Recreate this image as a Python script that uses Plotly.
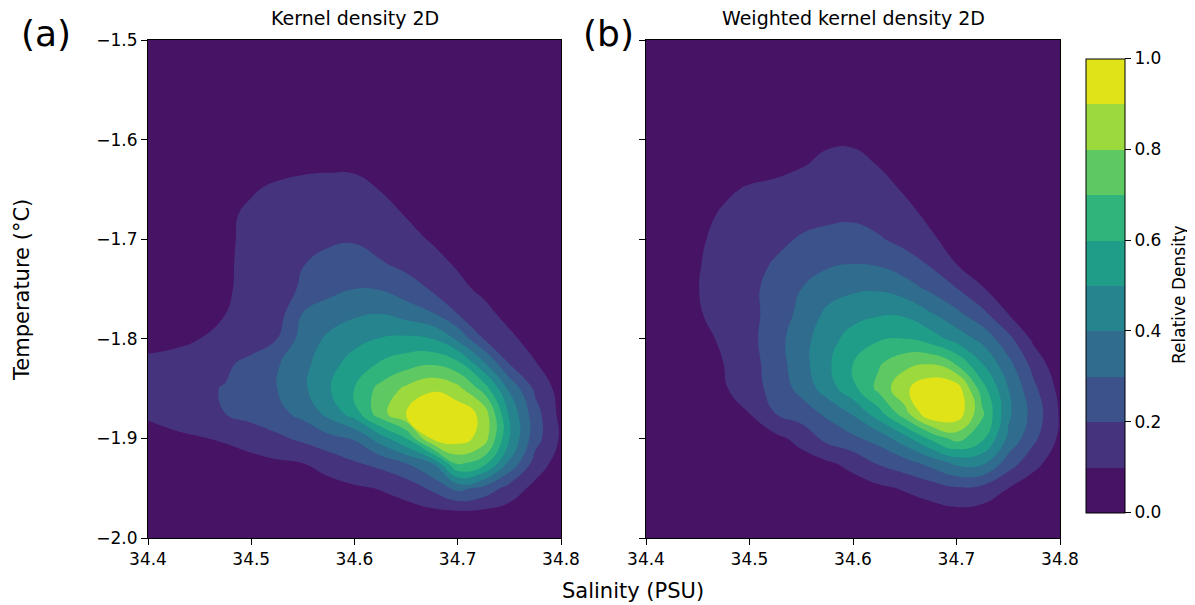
import plotly.graph_objects as go

# ---------------- data ----------------
salinity = [34.400, 34.425, 34.450, 34.475, 34.500, 34.525, 34.550, 34.575, 34.600,
            34.625, 34.650, 34.675, 34.700, 34.725, 34.750, 34.775, 34.800]
temperature = [-2.000, -1.975, -1.950, -1.925, -1.900, -1.875, -1.850, -1.825, -1.800,
               -1.775, -1.750, -1.725, -1.700, -1.675, -1.650, -1.625, -1.600, -1.575,
               -1.550, -1.525, -1.500]

# relative density, rows follow `temperature`, columns follow `salinity`
density_kde = [
    [0, 0, 0, 0, 0.005, 0.005, 0.01, 0.01, 0.015, 0.02, 0.02, 0.025, 0.03, 0.03, 0.02, 0.01, 0.005],
    [0, 0.005, 0.01, 0.01, 0.015, 0.02, 0.025, 0.03, 0.04, 0.05, 0.06, 0.07, 0.075, 0.07, 0.055, 0.03, 0.01],
    [0.01, 0.015, 0.02, 0.025, 0.03, 0.04, 0.05, 0.065, 0.085, 0.105, 0.14, 0.22, 0.33, 0.27, 0.16, 0.07, 0.03],
    [0.03, 0.04, 0.05, 0.06, 0.07, 0.085, 0.1, 0.14, 0.19, 0.23, 0.3, 0.4, 0.72, 0.64, 0.38, 0.16, 0.05],
    [0.075, 0.085, 0.095, 0.11, 0.14, 0.18, 0.22, 0.27, 0.31, 0.45, 0.6, 0.91, 0.95, 0.86, 0.5, 0.24, 0.085],
    [0.11, 0.13, 0.16, 0.2, 0.235, 0.27, 0.33, 0.43, 0.55, 0.76, 0.9, 0.99, 0.97, 0.87, 0.48, 0.24, 0.07],
    [0.14, 0.16, 0.185, 0.205, 0.245, 0.3, 0.38, 0.49, 0.61, 0.73, 0.82, 0.885, 0.83, 0.66, 0.38, 0.18, 0.06],
    [0.12, 0.13, 0.16, 0.185, 0.225, 0.29, 0.37, 0.465, 0.54, 0.61, 0.66, 0.69, 0.63, 0.42, 0.2, 0.105, 0.05],
    [0.07, 0.08, 0.1, 0.125, 0.155, 0.2, 0.34, 0.42, 0.47, 0.505, 0.52, 0.5, 0.38, 0.2, 0.12, 0.06, 0.03],
    [0.03, 0.05, 0.075, 0.1, 0.13, 0.155, 0.305, 0.35, 0.385, 0.4, 0.36, 0.31, 0.2, 0.13, 0.07, 0.03, 0.015],
    [0.025, 0.04, 0.065, 0.09, 0.125, 0.17, 0.21, 0.27, 0.3, 0.295, 0.245, 0.19, 0.125, 0.08, 0.045, 0.02, 0.01],
    [0.02, 0.035, 0.06, 0.09, 0.12, 0.16, 0.198, 0.23, 0.245, 0.21, 0.175, 0.13, 0.09, 0.06, 0.035, 0.015, 0.005],
    [0.02, 0.03, 0.05, 0.09, 0.115, 0.15, 0.17, 0.185, 0.19, 0.16, 0.125, 0.093, 0.065, 0.04, 0.02, 0.01, 0],
    [0.01, 0.02, 0.04, 0.09, 0.11, 0.13, 0.145, 0.155, 0.155, 0.125, 0.096, 0.07, 0.045, 0.02, 0.01, 0, 0],
    [0, 0.005, 0.015, 0.05, 0.095, 0.11, 0.118, 0.12, 0.12, 0.098, 0.07, 0.04, 0.02, 0, 0, 0, 0],
    [0, 0, 0.005, 0.025, 0.055, 0.08, 0.087, 0.09, 0.088, 0.07, 0.045, 0.025, 0.01, 0, 0, 0, 0],
    [0, 0, 0, 0.01, 0.025, 0.04, 0.05, 0.055, 0.05, 0.04, 0.025, 0.01, 0, 0, 0, 0, 0],
    [0, 0, 0, 0, 0.01, 0.015, 0.02, 0.025, 0.02, 0.015, 0.01, 0, 0, 0, 0, 0, 0],
    [0] * 17,
    [0] * 17,
    [0] * 17,
]

density_weighted = [
    [0, 0, 0, 0, 0, 0, 0.005, 0.005, 0.01, 0.01, 0.015, 0.02, 0.025, 0.02, 0.01, 0.005, 0],
    [0, 0, 0, 0, 0.005, 0.005, 0.01, 0.015, 0.02, 0.03, 0.04, 0.055, 0.07, 0.06, 0.035, 0.015, 0.005],
    [0, 0, 0.005, 0.005, 0.01, 0.015, 0.025, 0.035, 0.055, 0.08, 0.11, 0.15, 0.19, 0.17, 0.1, 0.04, 0.01],
    [0, 0.005, 0.01, 0.015, 0.025, 0.035, 0.06, 0.085, 0.13, 0.21, 0.26, 0.33, 0.42, 0.42, 0.25, 0.13, 0.04],
    [0.005, 0.01, 0.02, 0.03, 0.05, 0.075, 0.13, 0.23, 0.28, 0.34, 0.46, 0.62, 0.74, 0.62, 0.38, 0.22, 0.08],
    [0.015, 0.025, 0.04, 0.065, 0.1, 0.2, 0.25, 0.32, 0.41, 0.56, 0.76, 0.99, 0.97, 0.72, 0.42, 0.26, 0.09],
    [0.03, 0.045, 0.065, 0.09, 0.15, 0.24, 0.33, 0.45, 0.57, 0.73, 0.88, 0.98, 0.96, 0.64, 0.4, 0.22, 0.07],
    [0.035, 0.055, 0.08, 0.1, 0.16, 0.25, 0.36, 0.48, 0.6, 0.69, 0.77, 0.795, 0.69, 0.5, 0.33, 0.16, 0.03],
    [0.04, 0.06, 0.08, 0.11, 0.17, 0.26, 0.36, 0.46, 0.54, 0.59, 0.6, 0.55, 0.46, 0.37, 0.23, 0.075, 0.03],
    [0.04, 0.065, 0.09, 0.14, 0.175, 0.235, 0.33, 0.42, 0.465, 0.49, 0.485, 0.41, 0.325, 0.23, 0.1, 0.05, 0.02],
    [0.035, 0.06, 0.098, 0.135, 0.18, 0.23, 0.3, 0.36, 0.385, 0.39, 0.35, 0.28, 0.205, 0.105, 0.06, 0.03, 0.01],
    [0.03, 0.055, 0.095, 0.13, 0.165, 0.21, 0.25, 0.285, 0.3, 0.29, 0.245, 0.19, 0.1, 0.06, 0.035, 0.015, 0.005],
    [0.02, 0.045, 0.09, 0.12, 0.15, 0.175, 0.21, 0.225, 0.23, 0.21, 0.17, 0.11, 0.075, 0.045, 0.02, 0.01, 0],
    [0.01, 0.035, 0.075, 0.11, 0.135, 0.15, 0.165, 0.18, 0.185, 0.16, 0.12, 0.085, 0.06, 0.035, 0.015, 0.005, 0],
    [0.005, 0.02, 0.05, 0.085, 0.11, 0.12, 0.13, 0.15, 0.152, 0.125, 0.093, 0.065, 0.04, 0.02, 0.005, 0, 0],
    [0, 0.005, 0.02, 0.04, 0.06, 0.075, 0.095, 0.115, 0.12, 0.097, 0.07, 0.045, 0.025, 0.01, 0, 0, 0],
    [0, 0, 0.005, 0.02, 0.035, 0.05, 0.065, 0.09, 0.09, 0.07, 0.045, 0.025, 0.01, 0, 0, 0, 0],
    [0, 0, 0, 0.01, 0.015, 0.025, 0.035, 0.05, 0.05, 0.04, 0.025, 0.01, 0, 0, 0, 0, 0],
    [0, 0, 0, 0, 0.005, 0.01, 0.015, 0.02, 0.02, 0.015, 0.01, 0, 0, 0, 0, 0, 0],
    [0] * 17,
    [0] * 17,
]

band_colors = ["#471365", "#46337e", "#3b528b", "#2f6c8e", "#25848e",
               "#1f9d89", "#30b47b", "#5ec962", "#9bd93c", "#dfe318"]

x_ticks = [34.4, 34.5, 34.6, 34.7, 34.8]
x_ticklabels = ["34.4", "34.5", "34.6", "34.7", "34.8"]
y_ticks = [-2.0, -1.9, -1.8, -1.7, -1.6, -1.5]
y_ticklabels = ["\u22122.0", "\u22121.9", "\u22121.8", "\u22121.7", "\u22121.6", "\u22121.5"]
cbar_ticks = [0.0, 0.2, 0.4, 0.6, 0.8, 1.0]
cbar_ticklabels = ["0.0", "0.2", "0.4", "0.6", "0.8", "1.0"]

panel_titles = ["Kernel density 2D", "Weighted kernel density 2D"]
panel_letters = ["(a)", "(b)"]
x_label = "Salinity (PSU)"
y_label = "Temperature (°C)"
cbar_label = "Relative Density"

# ---------------- figure ----------------
OFF = 8                      # the page body adds an 8 px margin around the figure
W, H = 1195 - OFF, 605 - OFF
L, R, T, B = 148 - OFF, 1060 - OFF, 40 - OFF, 538 - OFF   # box holding both panels
PW, PH = R - L, B - T
FONT = "DejaVu Sans"
n = len(band_colors)
colorscale = [[i / (n - 1), c] for i, c in enumerate(band_colors)]


def fx(p):
    """screen pixel x -> paper fraction"""
    return (p - OFF - L) / PW


def fy(p):
    """screen pixel y -> paper fraction"""
    return (B - (p - OFF)) / PH


fig = go.Figure()
for k, (z, xa, ya) in enumerate([(density_kde, "x", "y"), (density_weighted, "x2", "y2")]):
    fig.add_trace(go.Contour(
        x=salinity, y=temperature, z=z, xaxis=xa, yaxis=ya,
        zmin=0, zmax=1, autocontour=False,
        contours=dict(start=0.1, end=0.9, size=0.1, coloring="fill", showlines=False),
        line=dict(width=0, smoothing=1.3),
        colorscale=colorscale,
        showscale=(k == 0),
        hoverinfo="skip",
        colorbar=dict(
            x=fx(1086), xanchor="left", xpad=0,
            y=fy(512.5), yanchor="bottom", ypad=0,
            len=(512.5 - 59) / PH, lenmode="fraction",
            thickness=39, thicknessmode="pixels",
            outlinewidth=1, outlinecolor="black",
            ticks="outside", ticklen=6, tickwidth=1, tickcolor="black",
            tickvals=cbar_ticks, ticktext=cbar_ticklabels,
            tickfont=dict(family=FONT, size=17, color="black"),
        ),
    ))

axis_common = dict(
    showgrid=False, zeroline=False, showline=True, linecolor="black", linewidth=1,
    mirror=True, ticks="outside", ticklen=6, tickwidth=1, tickcolor="black",
    automargin=False,
    tickfont=dict(family=FONT, size=17, color="black"),
)
fig.update_layout(
    width=W, height=H, autosize=False,
    margin=dict(l=L, r=W - R, t=T, b=H - B, pad=0),
    paper_bgcolor="white", plot_bgcolor="white",
    showlegend=False,
    xaxis=dict(domain=[0, fx(561)], range=[34.4, 34.8], anchor="y",
               tickvals=x_ticks, ticktext=x_ticklabels, **axis_common),
    yaxis=dict(domain=[0, 1], range=[-2.0, -1.5], anchor="x",
               tickvals=y_ticks, ticktext=y_ticklabels, **axis_common),
    xaxis2=dict(domain=[fx(646), 1], range=[34.4, 34.8], anchor="y2",
                tickvals=x_ticks, ticktext=x_ticklabels, **axis_common),
    yaxis2=dict(domain=[0, 1], range=[-2.0, -1.5], anchor="x2",
                tickvals=y_ticks, ticktext=y_ticklabels, showticklabels=False, **axis_common),
)

ann = []
for title, letter, cx, lx in zip(panel_titles, panel_letters, [354.5, 853], [46, 608]):
    ann.append(dict(text=title, x=fx(cx), y=fy(18.5), xref="paper", yref="paper",
                    xanchor="center", yanchor="middle", showarrow=False,
                    font=dict(family=FONT, size=19, color="black")))
    ann.append(dict(text=letter, x=fx(lx), y=fy(33), xref="paper", yref="paper",
                    xanchor="center", yanchor="middle", showarrow=False,
                    font=dict(family=FONT, size=36, color="black")))
ann.append(dict(text=x_label, x=fx(633), y=fy(591), xref="paper", yref="paper",
                xanchor="center", yanchor="middle", showarrow=False,
                font=dict(family=FONT, size=21, color="black")))
ann.append(dict(text=y_label, x=fx(22), y=fy(290), xref="paper", yref="paper",
                xanchor="center", yanchor="middle", showarrow=False, textangle=-90,
                font=dict(family=FONT, size=21, color="black")))
ann.append(dict(text=cbar_label, x=fx(1179), y=fy(295), xref="paper", yref="paper",
                xanchor="center", yanchor="middle", showarrow=False, textangle=-90,
                font=dict(family=FONT, size=17, color="black")))
fig.update_layout(annotations=ann)

fig.write_html("out.html")
